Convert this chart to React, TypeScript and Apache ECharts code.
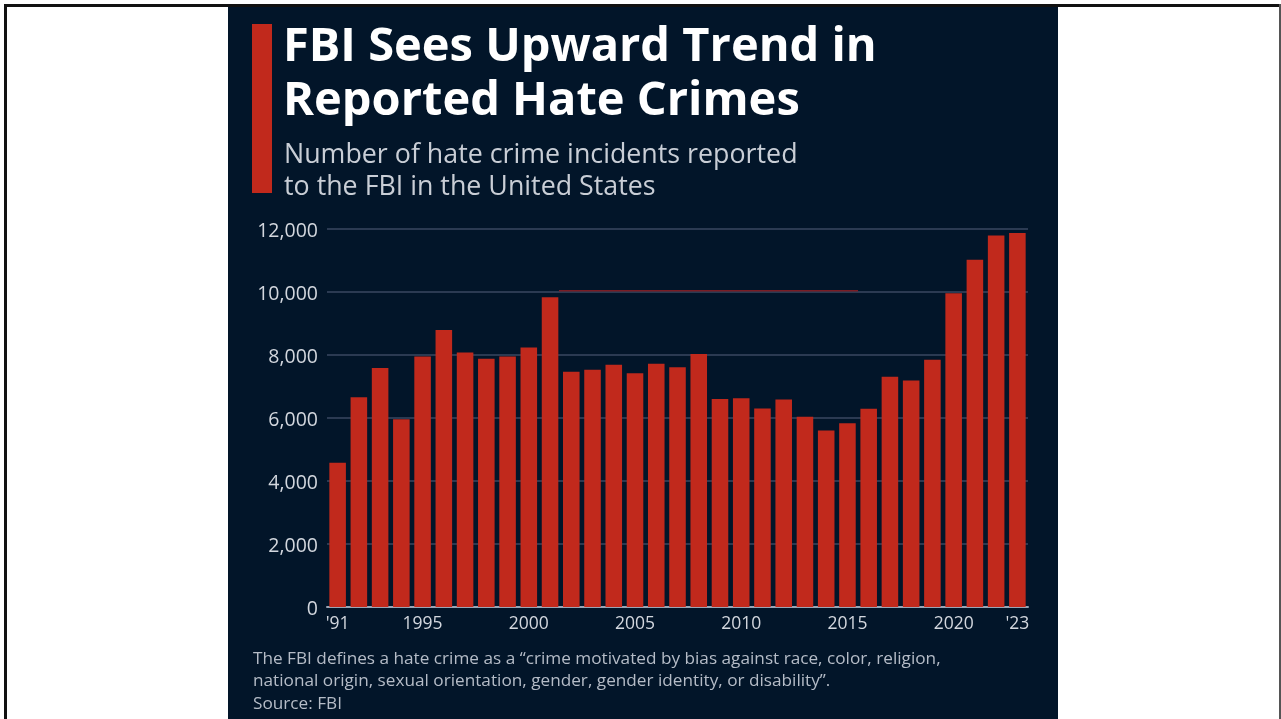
import React, { useEffect, useRef } from "react";
import * as echarts from "echarts";

const years: string[] = [
  "1991","1992","1993","1994","1995","1996","1997","1998","1999","2000",
  "2001","2002","2003","2004","2005","2006","2007","2008","2009","2010",
  "2011","2012","2013","2014","2015","2016","2017","2018","2019","2020",
  "2021","2022","2023",
];
const incidents: number[] = [
  4580, 6660, 7590, 5960, 7950, 8790, 8080, 7880, 7950, 8240,
  9830, 7470, 7530, 7690, 7420, 7720, 7610, 8030, 6600, 6630,
  6300, 6590, 6040, 5600, 5830, 6290, 7310, 7190, 7850, 9960,
  11020, 11790, 11870,
];
const shownYearLabels: Record<string, string> = {
  "1991": "'91", "1995": "1995", "2000": "2000", "2005": "2005",
  "2010": "2010", "2015": "2015", "2020": "2020", "2023": "'23",
};
// thin stray red line seen in the source image (x in category-index units)
const strayLine: number[][] = [[10.42, 10040], [24.5, 10040]];
const titleLines = ["FBI Sees Upward Trend in", "Reported Hate Crimes"];
const subtitleLines = ["Number of hate crime incidents reported", "to the FBI in the United States"];
const noteLines = [
  "The FBI defines a hate crime as a \u201ccrime motivated by bias against race, color, religion,",
  "national origin, sexual orientation, gender, gender identity, or disability\u201d.",
  "Source: FBI",
];

const NAVY = "#021529";
const RED = "#c1291c";
const FONT = "'Open Sans', 'Noto Sans', sans-serif";

export default function App() {
  const ref = useRef<HTMLDivElement>(null);
  useEffect(() => {
    if (!ref.current) return;
    const chart = echarts.init(ref.current, null, { renderer: "svg" });
    const graphics: any[] = [
      { type: "rect", z: -10, shape: { x: 0, y: 0, width: 1281, height: 719 }, style: { fill: "#ffffff" } },
      { type: "rect", z: -9, shape: { x: 228, y: 6, width: 830, height: 713 }, style: { fill: NAVY } },
      { type: "rect", z: -8, shape: { x: 4, y: 4, width: 1277, height: 3 }, style: { fill: "#111111" } },
      { type: "rect", z: -8, shape: { x: 4, y: 4, width: 3, height: 715 }, style: { fill: "#111111" } },
      { type: "rect", z: -8, shape: { x: 1279, y: 4, width: 2, height: 715 }, style: { fill: "#555555" } },
      { type: "rect", shape: { x: 252, y: 24, width: 20, height: 169 }, style: { fill: RED } },
      {
        type: "text", x: 283, y: 16,
        style: {
          text: titleLines.join("\n"), fill: "#ffffff", fontSize: 47, lineHeight: 54,
          fontWeight: "bold", fontFamily: FONT, verticalAlign: "top",
        },
      },
      {
        type: "text", x: 284, y: 136,
        style: {
          text: subtitleLines.join("\n"), fill: "#c9ced6", fontSize: 26.8, lineHeight: 32,
          fontFamily: FONT, verticalAlign: "top",
        },
      },
      {
        type: "text", x: 253, y: 646,
        style: {
          text: noteLines.join("\n"), fill: "#b5bcc7", fontSize: 17.2, lineHeight: 22.5,
          fontFamily: FONT, verticalAlign: "top",
        },
      },
    ];

    chart.setOption({
      animation: false,
      backgroundColor: "transparent",
      graphic: graphics,
      grid: { left: 327, right: 253, top: 229, bottom: 112, containLabel: false },
      xAxis: [
        {
          type: "category",
          data: years,
          axisTick: { show: false },
          axisLine: { show: true, lineStyle: { color: "#9aa5b5", width: 2 } },
          axisLabel: {
            interval: 0,
            color: "#d3d7de",
            fontSize: 17.5,
            fontFamily: FONT,
            margin: 6,
            formatter: (v: string) => shownYearLabels[v] || "",
          },
        },
        {
          type: "value",
          min: -0.5,
          max: years.length - 0.5,
          show: false,
        },
      ],
      yAxis: {
        type: "value",
        min: 0,
        max: 12000,
        interval: 2000,
        axisLine: { show: false },
        axisTick: { show: false },
        splitLine: { lineStyle: { color: "#2b3a52", width: 2 } },
        axisLabel: {
          color: "#d3d7de",
          fontSize: 19.5,
          fontFamily: FONT,
          margin: 9,
          formatter: (v: number) => v.toLocaleString("en-US"),
        },
      },
      series: [
        {
          type: "bar",
          data: incidents,
          barWidth: "78%",
          itemStyle: { color: RED },
        },
        {
          type: "line",
          xAxisIndex: 1,
          data: strayLine,
          symbol: "none",
          silent: true,
          z: 3,
          lineStyle: { color: "#7a1d25", width: 1.5 },
        },
      ],
    });
    return () => chart.dispose();
  }, []);
  return (
    <div
      ref={ref}
      style={{ position: "fixed", left: 0, top: 0, width: 1281, height: 719 }}
    />
  );
}
